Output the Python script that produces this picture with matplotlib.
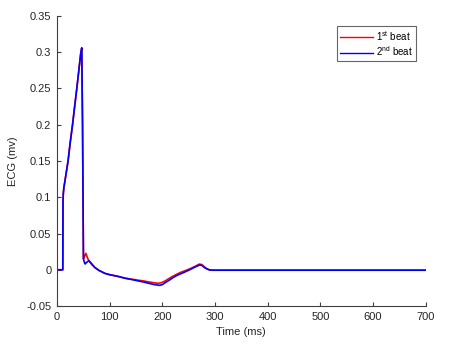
import matplotlib
matplotlib.use("Agg")
import matplotlib.pyplot as plt

plt.rcParams['font.family'] = ['Liberation Sans', 'DejaVu Sans']

# Shared depolarisation part (ms, mV)
t_up = [0, 11, 11.4, 12, 13, 15, 18, 21, 25, 29.5, 33, 37.6, 41, 45, 47, 48.5, 50.2]
v_up = [0, 0, 0.095, 0.105, 0.113, 0.122, 0.136, 0.15, 0.175, 0.2, 0.222, 0.25, 0.272, 0.298, 0.306, 0.2, 0.015]

# 1st beat (red) after the spike
t_red = [52, 54.8, 57, 60, 65, 72, 80, 91, 100, 115, 129, 140, 155, 165, 176, 185, 192,
         198, 205, 215, 225, 235, 245, 255, 263, 270, 275, 280, 285, 290, 295, 700]
v_red = [0.018, 0.0227, 0.018, 0.013, 0.008, 0.003, -0.001, -0.005, -0.0068, -0.009, -0.0115, -0.0128,
         -0.0145, -0.0155, -0.017, -0.018, -0.0187, -0.018, -0.0155, -0.011, -0.007, -0.0035,
         -0.0008, 0.0022, 0.005, 0.0078, 0.0072, 0.004, 0.0012, -0.0003, -0.0006, -0.0006]

# 2nd beat (blue) after the spike
t_blue = [52.5, 53.5, 56, 60.5, 65, 72, 80, 91, 100, 115, 129, 140, 155, 165, 176, 185, 195,
          200, 205, 215, 221, 230, 240, 252, 260, 266, 271, 275, 280, 285, 290, 295, 700]
v_blue = [0.009, 0.008, 0.010, 0.0125, 0.009, 0.003, -0.001, -0.005, -0.0068, -0.009, -0.0117,
          -0.0132, -0.0155, -0.017, -0.019, -0.0205, -0.0215, -0.0205, -0.018, -0.0135, -0.0104,
          -0.007, -0.004, 0.0, 0.003, 0.005, 0.0066, 0.006, 0.003, 0.001, -0.0003, -0.0006, -0.0006]

x_ticks = [0, 100, 200, 300, 400, 500, 600, 700]
y_ticks = [-0.05, 0, 0.05, 0.1, 0.15, 0.2, 0.25, 0.3, 0.35]
y_tick_labels = ['-0.05', '0', '0.05', '0.1', '0.15', '0.2', '0.25', '0.3', '0.35']

fig = plt.figure(figsize=(4.73, 3.53), dpi=100)
ax = fig.add_axes([0.1205, 0.1331, 0.7795, 0.8216])

ax.plot(t_up + t_red, v_up + v_red, color='#ff0000', lw=1.2, label='1$^{\\mathregular{st}}$ beat')
ax.plot(t_up + t_blue, v_up + v_blue, color='#0000ff', lw=1.2, label='2$^{\\mathregular{nd}}$ beat')

ax.set_xlim(0, 700)
ax.set_ylim(-0.05, 0.35)
ax.set_xticks(x_ticks)
ax.set_xticklabels([str(v) for v in x_ticks])
ax.set_yticks(y_ticks)
ax.set_yticklabels(y_tick_labels)
for s in ['top', 'right']:
    ax.spines[s].set_visible(False)
for s in ['left', 'bottom']:
    ax.spines[s].set_color('#404040')
    ax.spines[s].set_linewidth(0.8)
ax.tick_params(direction='in', length=3, width=0.8, color='#404040', labelsize=8, labelcolor='#262626', pad=4)
ax.set_xlabel('Time (ms)', fontsize=8, color='#262626', labelpad=4)
ax.set_ylabel('ECG (mv)', fontsize=8, color='#262626', labelpad=6)

leg = ax.legend(loc='upper right', bbox_to_anchor=(0.975, 0.965), fontsize=7, frameon=True, fancybox=False,
                handlelength=3.4, borderpad=0.3, labelspacing=0.15, handletextpad=0.4, borderaxespad=0)
leg.get_frame().set_edgecolor('#404040')
leg.get_frame().set_linewidth(0.8)
for h in leg.get_lines():
    h.set_linewidth(1.0)

fig.savefig('out.png', dpi=100)
